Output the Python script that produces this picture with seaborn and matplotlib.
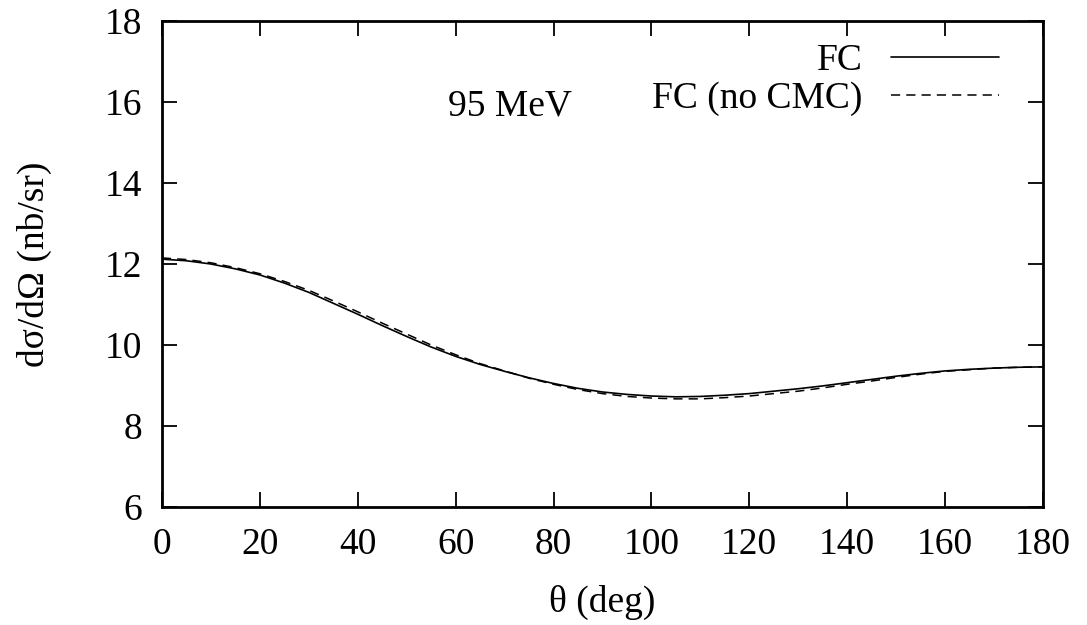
import numpy as np
import pandas as pd
import matplotlib
matplotlib.use("Agg")
import matplotlib.pyplot as plt
import seaborn as sns

# Scattering angle (deg) and differential cross sections (nb/sr) at 95 MeV
theta = [0, 5, 10, 15, 20, 25, 30, 35, 40, 45, 50, 55, 60, 65, 70, 75, 80, 85, 90,
         95, 100, 105, 110, 115, 120, 125, 130, 135, 140, 145, 150, 155, 160, 165,
         170, 175, 180]
fc = [12.12, 12.08, 12.00, 11.88, 11.73, 11.53, 11.30, 11.03, 10.76, 10.48, 10.21,
      9.95, 9.72, 9.52, 9.35, 9.19, 9.05, 8.93, 8.84, 8.78, 8.74, 8.72, 8.73, 8.76,
      8.80, 8.86, 8.92, 8.99, 9.07, 9.15, 9.23, 9.30, 9.36, 9.40, 9.43, 9.45, 9.46]
fc_no_cmc = [12.15, 12.11, 12.03, 11.91, 11.76, 11.57, 11.35, 11.09, 10.82, 10.54,
             10.27, 10.00, 9.76, 9.54, 9.36, 9.18, 9.03, 8.90, 8.80, 8.73, 8.69, 8.67,
             8.67, 8.70, 8.74, 8.80, 8.86, 8.94, 9.03, 9.11, 9.20, 9.28, 9.35, 9.39,
             9.43, 9.45, 9.46]
series_labels = ["FC", "FC (no CMC)"]
x_ticks = [0, 20, 40, 60, 80, 100, 120, 140, 160, 180]
y_ticks = [6, 8, 10, 12, 14, 16, 18]
energy_label = "95 MeV"

sns.set_theme(style="ticks")
plt.rcParams["font.family"] = ["Liberation Serif", "DejaVu Serif"]
plt.rcParams["text.color"] = "black"
plt.rcParams["axes.labelcolor"] = "black"
plt.rcParams["xtick.color"] = "black"
plt.rcParams["ytick.color"] = "black"

fig = plt.figure(figsize=(10.87, 6.25), dpi=100)
ax = fig.add_axes([0.149, 0.1888, 0.8105, 0.7776])

df = pd.DataFrame({"theta": theta, "fc": fc, "fc_no_cmc": fc_no_cmc})
sns.lineplot(data=df, x="theta", y="fc", color="black", linewidth=1.2,
             label=series_labels[0], ax=ax)
sns.lineplot(data=df, x="theta", y="fc_no_cmc", color="black", linewidth=1.1,
             linestyle=(0, (6, 4)), label=series_labels[1], ax=ax)

ax.set_xlim(0, 180)
ax.set_ylim(6, 18)
ax.set_xticks(x_ticks)
ax.set_yticks(y_ticks)

fs = 27
ax.tick_params(axis="both", which="major", direction="in", length=11, width=1.3,
               labelsize=fs, top=True, right=True, color="black", labelcolor="black")
ax.tick_params(axis="x", pad=15)
ax.tick_params(axis="y", pad=14)
for sp in ax.spines.values():
    sp.set_linewidth(2.0)
    sp.set_color("black")

ax.set_xlabel("θ (deg)", fontsize=fs, labelpad=16, color="black")
ax.set_ylabel("dσ/dΩ (nb/sr)", fontsize=fs, labelpad=38, color="black")

ax.text(58.4, 15.9, energy_label, fontsize=fs, ha="left", va="center", color="black")

leg = ax.legend(loc="upper right", bbox_to_anchor=(0.9675, 0.985), frameon=False,
                fontsize=fs, markerfirst=False, handlelength=2.9,
                handletextpad=0.75, labelspacing=0.1, borderaxespad=0.0)
for t in leg.get_texts():
    t.set_color("black")

fig.savefig("out.png", dpi=100, facecolor="white")
